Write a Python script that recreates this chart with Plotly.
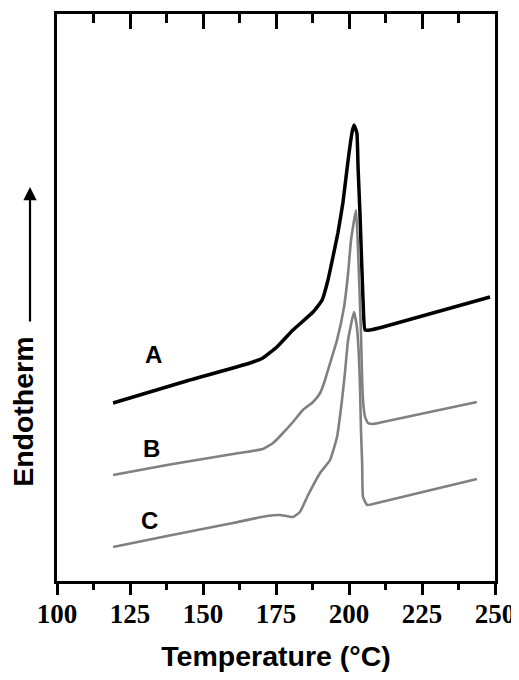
import plotly.graph_objects as go

# Temperature (°C) and heat-flow (arbitrary units, endotherm up)
temp_a = [119.2, 143.2, 166.1, 170.5, 175.3, 180.8, 187.7, 190.8, 192.8, 194.5, 196.2, 197.9,
          199.7, 201.0, 201.7, 202.7, 203.1, 203.8, 204.8, 205.5, 207.2, 211.6, 248.3]
heat_a = [178, 199, 218, 223, 234, 251, 269, 281, 301, 324, 348, 378,
          421, 448, 456, 448, 414, 364, 281, 251, 251, 254, 284]

temp_b = [119.2, 137.7, 160.3, 170.5, 174.0, 177.4, 180.8, 184.2, 187.7, 190.1, 191.8, 192.5,
          195.9, 198.3, 199.7, 200.7, 202.4, 203.1, 204.1, 204.5, 204.8, 205.5, 206.5, 208.2,
          211.6, 243.8]
heat_b = [106, 116, 127, 132, 138, 148, 159, 171, 179, 188, 201, 208,
          241, 274, 308, 341, 371, 331, 248, 201, 181, 164, 158, 157,
          159, 179]

temp_c = [119.2, 137.7, 160.3, 171.9, 176.4, 180.8, 183.2, 186.0, 190.1, 193.5, 195.9, 197.6,
          198.6, 199.7, 201.7, 202.7, 203.4, 203.8, 204.1, 204.5, 204.8, 206.2, 208.2, 243.8]
heat_c = [34, 45, 58, 65, 66, 64, 69, 86, 108, 121, 144, 181,
          208, 241, 269, 254, 224, 191, 151, 118, 84, 76, 77, 102]

curve_labels = ["A", "B", "C"]
label_temp = [132.9, 132.5, 131.8]
label_heat = [227, 133, 61]

x_ticks = [100, 125, 150, 175, 200, 225, 250]

fig = go.Figure()
fig.add_trace(go.Scatter(x=temp_a, y=heat_a, mode="lines",
                         line=dict(color="#000000", width=3.5, shape="spline", smoothing=0.4),
                         showlegend=False, hoverinfo="skip"))
fig.add_trace(go.Scatter(x=temp_b, y=heat_b, mode="lines",
                         line=dict(color="#808080", width=2.6, shape="spline", smoothing=0.4),
                         showlegend=False, hoverinfo="skip"))
fig.add_trace(go.Scatter(x=temp_c, y=heat_c, mode="lines",
                         line=dict(color="#808080", width=2.6, shape="spline", smoothing=0.4),
                         showlegend=False, hoverinfo="skip"))
# invisible trace to activate top axis
fig.add_trace(go.Scatter(x=[x_ticks[0], x_ticks[-1]], y=[None, None], xaxis="x2",
                         mode="lines", showlegend=False, hoverinfo="skip"))

for lab, tx, ty in zip(curve_labels, label_temp, label_heat):
    fig.add_annotation(x=tx, y=ty, text=lab, showarrow=False,
                       font=dict(family="Liberation Sans", size=24, color="black", weight="bold"))

# y-axis label and arrow
fig.add_annotation(xref="paper", yref="paper", x=-0.078, y=0.298, text="Endotherm",
                   textangle=-90, showarrow=False, xanchor="center", yanchor="middle",
                   font=dict(family="Liberation Sans", size=28.5, color="black", weight="bold"))
fig.add_annotation(xref="paper", yref="paper", x=-0.0616, y=0.695, text="",
                   showarrow=True, ax=0, ay=136, arrowhead=2, arrowsize=1.2,
                   arrowwidth=2.2, arrowcolor="black", standoff=0)

fig.update_layout(
    width=511, height=672,
    margin=dict(l=49, r=24, t=6, b=99, autoexpand=False),
    plot_bgcolor="white", paper_bgcolor="white",
    xaxis=dict(range=[100, 250], tickvals=x_ticks, ticktext=[str(v) for v in x_ticks],
               automargin=False, ticklabelstandoff=-4,
               ticks="outside", ticklen=11, tickwidth=3, tickcolor="black",
               minor=dict(dtick=12.5, tick0=100, ticks="outside", ticklen=6, tickwidth=3,
                          tickcolor="black"),
               showline=True, linewidth=3, linecolor="black", mirror=True,
               showgrid=False, zeroline=False,
               tickfont=dict(family="Liberation Serif", size=27, color="black", weight="bold"),
               title=dict(text="Temperature (°C)", standoff=18,
                          font=dict(family="Liberation Sans", size=28.5, color="black",
                                    weight="bold"))),
    xaxis2=dict(range=[100, 250], overlaying="x", side="top", tickvals=x_ticks,
                automargin=False,
                ticks="inside", ticklen=15, tickwidth=3, tickcolor="black",
                minor=dict(dtick=12.5, tick0=100, ticks="inside", ticklen=9, tickwidth=3,
                           tickcolor="black"),
                showticklabels=False, showline=False, showgrid=False, zeroline=False),
    yaxis=dict(range=[0, 567], showticklabels=False, ticks="", showline=True, linewidth=3,
               automargin=False,
               linecolor="black", mirror=True, showgrid=False, zeroline=False),
)

fig.write_html("out.html")
